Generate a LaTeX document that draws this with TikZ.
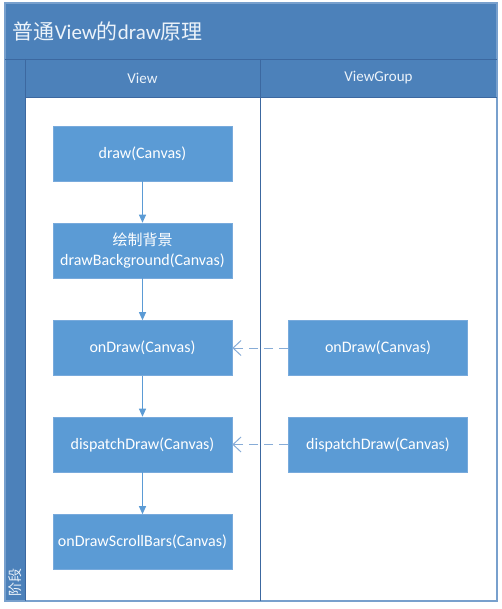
\documentclass[tikz,border=0pt]{standalone}
\usepackage{fontspec}
\setmainfont{Carlito}
\newfontfamily\cjk{Noto Sans CJK SC}
\usetikzlibrary{arrows,arrows.meta}
\definecolor{lane_blue}{RGB}{76,129,186}
\definecolor{line_blue}{RGB}{60,104,160}
\definecolor{frame_blue}{RGB}{120,160,205}
\definecolor{box_blue}{RGB}{91,155,213}
\definecolor{box_edge}{RGB}{120,170,220}
\definecolor{edge_blue}{RGB}{91,155,213}
\definecolor{dash_blue}{RGB}{135,172,215}
\definecolor{head_text}{RGB}{236,243,250}

\begin{document}
\begin{tikzpicture}[x=1pt,y=-1pt,line width=1pt,>={Triangle[length=8pt,width=7pt]}]
    \tikzstyle{func}=[draw=box_edge, fill=box_blue, text=white, line width=0.6pt,
                      minimum width=179pt, minimum height=55pt, inner sep=0pt,
                      align=center, font=\fontsize{16}{20}\selectfont]
    \tikzstyle{lanehead}=[text=head_text, font=\fontsize{15}{17}\selectfont]
    \tikzstyle{call}=[->, edge_blue]
    \tikzstyle{override}=[dash_blue, dash pattern=on 9pt off 6pt,
                          -{Straight Barb[length=8pt,width=15pt]}]

    % frame and lanes
    \useasboundingbox (0,0) rectangle (502,609);
    \fill[lane_blue] (5,3) rectangle (497,97);
    \fill[lane_blue] (5,97) rectangle (25,601);
    \draw[frame_blue, line width=1.5pt] (5,3) rectangle (497,601);
    \draw[line_blue, line width=0.7pt] (5,59) -- (497,59);
    \draw[line_blue, line width=0.7pt] (25,59) -- (25,601);
    \draw[line_blue, line width=0.7pt] (260,59) -- (260,601);
    \draw[line_blue, line width=0.7pt] (25,97) -- (497,97);

    \node[anchor=west, text=head_text, font=\fontsize{21}{24}\selectfont] (title) at (9,31)
        {{\cjk 普通}View{\cjk 的}draw{\cjk 原理}};
    \node[lanehead] (viewhead)  at (142.5,78) {View};
    \node[lanehead] (grouphead) at (378.5,78) {ViewGroup};
    \node[rotate=90, anchor=west, inner sep=0pt, text=head_text,
          font=\cjk\fontsize{14}{14}\selectfont] (stage) at (15,597) {阶段};

    % View lane
    \node[func] (draw)     at (142.5,153.5) {draw(Canvas)};
    \node[func] (bg)       at (142.5,250.5) {{\cjk\fontsize{15}{20}\selectfont 绘制背景}\\drawBackground(Canvas)};
    \node[func] (ondraw)   at (142.5,348)   {onDraw(Canvas)};
    \node[func] (dispatch) at (142.5,444.5) {dispatchDraw(Canvas)};
    \node[func] (scroll)   at (142.5,542)   {onDrawScrollBars(Canvas)};

    % ViewGroup lane
    \node[func] (vgondraw)   at (378,348)   {onDraw(Canvas)};
    \node[func] (vgdispatch) at (378,444.5) {dispatchDraw(Canvas)};

    \path[call]
     (draw) edge (bg)
     (bg) edge (ondraw)
     (ondraw) edge (dispatch)
     (dispatch) edge (scroll);
    \path[override]
     (vgondraw) edge (ondraw)
     (vgdispatch) edge (dispatch);
\end{tikzpicture}
\end{document}
